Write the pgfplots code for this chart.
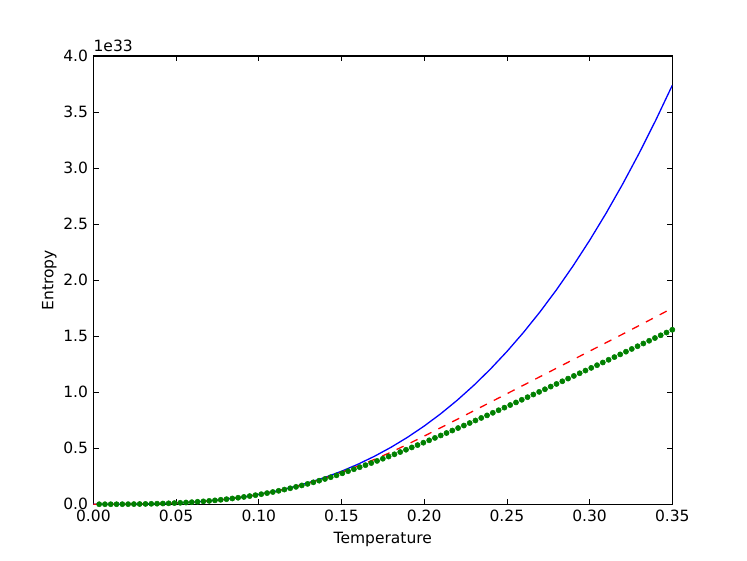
\documentclass[12pt,border=0pt]{standalone}
\usepackage{fontspec}
\setmainfont{DejaVu Sans}
\usepackage{pgfplots}
\pgfplotsset{compat=1.18}
\definecolor{mplblue}{rgb}{0,0,1}
\definecolor{mplgreen}{rgb}{0,0.5,0}
\definecolor{mplred}{rgb}{1,0,0}
\begin{document}
\begin{tikzpicture}
\useasboundingbox (-72bp,-43.2bp) rectangle (504bp,388.8bp);
\begin{axis}[
  name=ax,
  at={(0,0)}, anchor=south west,
  scale only axis, width=446.4bp, height=345.6bp,
  xmin=0, xmax=0.35, ymin=0, ymax=4,
  xtick={0,0.05,0.1,0.15,0.2,0.25,0.3,0.35},
  ytick={0,0.5,1,1.5,2,2.5,3,3.5,4},
  xticklabel style={/pgf/number format/.cd, fixed, fixed zerofill, precision=2},
  yticklabel style={/pgf/number format/.cd, fixed, fixed zerofill, precision=1},
  /pgf/number format/assume math mode=true,
  scaled y ticks=false, scaled x ticks=false,
  tick align=inside, major tick length=4bp,
  tick style={black, line width=0.6bp},
  axis line style={line width=1bp},
  xlabel={Temperature}, ylabel={Entropy},
  ylabel shift=-3bp,
  every tick label/.append style={font=\fontsize{12}{14}\selectfont},
  label style={font=\fontsize{12}{14}\selectfont},
]
\addplot[color=mplblue, line width=1bp] coordinates {
(0,0) (0.01,0.0000872) (0.02,0.000698) (0.03,0.002354) (0.04,0.005581)
(0.05,0.0109) (0.06,0.018835) (0.07,0.02991) (0.08,0.044646) (0.09,0.063569)
(0.10,0.0872) (0.11,0.116063) (0.12,0.150682) (0.13,0.191578) (0.14,0.239277)
(0.15,0.2943) (0.16,0.357171) (0.17,0.428413) (0.18,0.50855) (0.19,0.598105)
(0.20,0.6976) (0.21,0.807559) (0.22,0.928506) (0.23,1.060962) (0.24,1.205453)
(0.25,1.3625) (0.26,1.532627) (0.27,1.716358) (0.28,1.914214) (0.29,2.126719)
(0.30,2.3544) (0.31,2.597778) (0.32,2.85737) (0.33,3.133706) (0.34,3.427309)
(0.35,3.7387)
};
\addplot[color=mplred, line width=1bp, dash pattern=on 6bp off 6bp] coordinates {
(0,0) (0.01,0.0000872) (0.02,0.000698) (0.03,0.00235) (0.04,0.00558)
(0.05,0.0109) (0.06,0.01883) (0.07,0.0299) (0.08,0.04464) (0.09,0.0634)
(0.10,0.0868) (0.11,0.1150) (0.12,0.1486) (0.13,0.1876) (0.14,0.2325)
(0.15,0.285) (0.16,0.340) (0.17,0.400) (0.18,0.465) (0.19,0.535)
(0.20,0.608) (0.21,0.683) (0.22,0.758) (0.23,0.834) (0.24,0.910)
(0.25,0.986) (0.26,1.062) (0.27,1.138) (0.28,1.214) (0.29,1.290)
(0.30,1.366) (0.31,1.442) (0.32,1.518) (0.33,1.595) (0.34,1.672)
(0.35,1.750)
};
\addplot[only marks, mark=*, mark size=2bp, color=mplgreen, mark options={draw=mplgreen, fill=mplgreen}] coordinates {
(0.0035,0.0000037) (0.0070,0.00003) (0.0105,0.0001) (0.0140,0.00024) (0.0175,0.00047)
(0.0210,0.00081) (0.0245,0.00128) (0.0280,0.00191) (0.0315,0.00273) (0.0350,0.00374)
(0.0385,0.00497) (0.0420,0.00646) (0.0455,0.00821) (0.0490,0.01025) (0.0525,0.01260)
(0.0560,0.01529) (0.0595,0.01833) (0.0630,0.02175) (0.0665,0.02557) (0.0700,0.02980)
(0.0735,0.03447) (0.0770,0.03960) (0.0805,0.04520) (0.0840,0.05130) (0.0875,0.05790)
(0.0910,0.06503) (0.0945,0.07271) (0.0980,0.08094) (0.1015,0.08973) (0.1050,0.09910)
(0.1085,0.10906) (0.1120,0.11962) (0.1155,0.13077) (0.1190,0.14253) (0.1225,0.15488)
(0.1260,0.16784) (0.1295,0.18139) (0.1330,0.19552) (0.1365,0.21023) (0.1400,0.22549)
(0.1435,0.24129) (0.1470,0.25759) (0.1505,0.27600) (0.1540,0.29474) (0.1575,0.31241)
(0.1610,0.33045) (0.1645,0.34883) (0.1680,0.36756) (0.1715,0.38660) (0.1750,0.40597)
(0.1785,0.42563) (0.1820,0.44556) (0.1855,0.46577) (0.1890,0.48622) (0.1925,0.50692)
(0.1960,0.52785) (0.1995,0.54899) (0.2030,0.57034) (0.2065,0.59188) (0.2100,0.61361)
(0.2135,0.63552) (0.2170,0.65758) (0.2205,0.67980) (0.2240,0.70216) (0.2275,0.72467)
(0.2310,0.74729) (0.2345,0.77003) (0.2380,0.79289) (0.2415,0.81584) (0.2450,0.83890)
(0.2485,0.86206) (0.2520,0.88528) (0.2555,0.90860) (0.2590,0.93197) (0.2625,0.95543)
(0.2660,0.97895) (0.2695,1.00252) (0.2730,1.02614) (0.2765,1.04982) (0.2800,1.07356)
(0.2835,1.09733) (0.2870,1.12114) (0.2905,1.14502) (0.2940,1.16890) (0.2975,1.19284)
(0.3010,1.21683) (0.3045,1.24084) (0.3080,1.26489) (0.3115,1.28897) (0.3150,1.31311)
(0.3185,1.33727) (0.3220,1.36148) (0.3255,1.38574) (0.3290,1.41004) (0.3325,1.43438)
(0.3360,1.45878) (0.3395,1.48323) (0.3430,1.50774) (0.3465,1.53230) (0.3500,1.55695)
};
\end{axis}
\node[anchor=south west, inner sep=0pt, yshift=3bp, font=\fontsize{12}{14}\selectfont] at (ax.north west) {1e33};
\end{tikzpicture}
\end{document}
